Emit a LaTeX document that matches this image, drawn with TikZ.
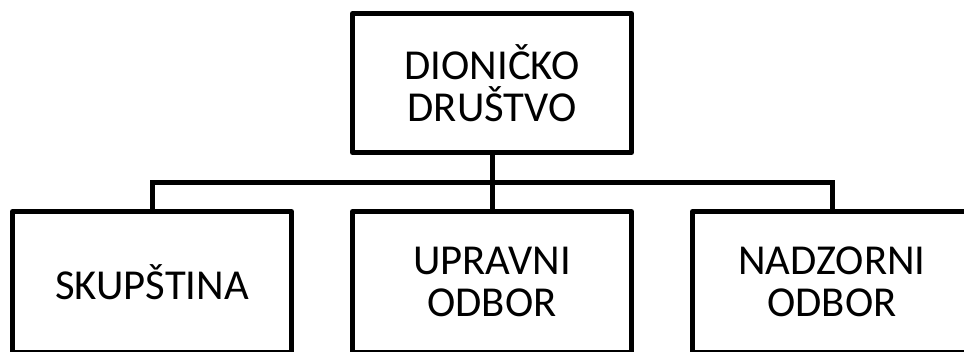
\documentclass[tikz,border=0pt]{standalone}
\usepackage{fontspec}
\setmainfont{Carlito}
\begin{document}
\begin{tikzpicture}[x=0.75pt,y=-0.75pt,
  box/.style={draw=black,line width=3.75pt,line join=round,minimum width=279*0.75pt,inner sep=0pt,align=center,font=\fontsize{32}{31.5}\selectfont},
  link/.style={draw=black,line width=3.75pt}]
\useasboundingbox (0,0) rectangle (964,352);
\clip (0,0) rectangle (964,352);
\node[box,minimum height=139*0.75pt] (top) at (492,83) {DIONIČKO\\DRUŠTVO};
\node[box,minimum height=141*0.75pt] (sk) at (152,282) {SKUPŠTINA};
\node[box,minimum height=141*0.75pt] (up) at (492,282) {UPRAVNI\\ODBOR};
\node[box,minimum height=141*0.75pt] (nd) at (832,282) {NADZORNI\\ODBOR};
\coordinate (bus) at (492,183);
\draw[link] (top.south) -- (up.north);
\draw[link] (sk.north) -- (sk.north |- bus) -| (nd.north);
\end{tikzpicture}
\end{document}
